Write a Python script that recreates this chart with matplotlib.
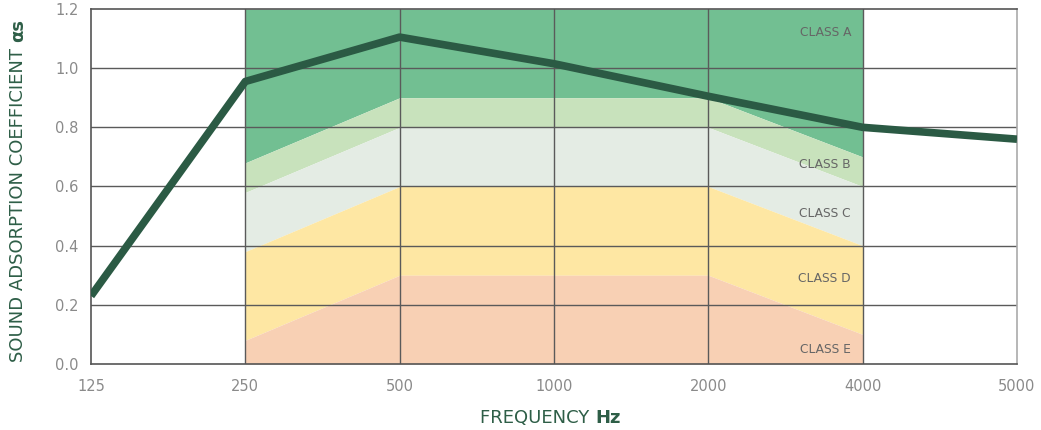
import numpy as np
import matplotlib.pyplot as plt

plt.rcParams['font.family'] = ['DejaVu Sans']

# ── Дані ──────────────────────────────────────────────────────────────
freqs = ['125', '250', '500', '1000', '2000', '4000', '5000']
alpha_s = [0.23, 0.955, 1.105, 1.015, 0.905, 0.80, 0.76]

# межі класів (для 250 ... 4000 Гц)
band_freqs = ['250', '500', '1000', '2000', '4000']
bound_ab = [0.68, 0.90, 0.90, 0.90, 0.70]
bound_bc = [0.58, 0.80, 0.80, 0.80, 0.60]
bound_cd = [0.38, 0.60, 0.60, 0.60, 0.40]
bound_de = [0.08, 0.30, 0.30, 0.30, 0.10]
bound_top = [1.2, 1.2, 1.2, 1.2, 1.2]
bound_bottom = [0.0, 0.0, 0.0, 0.0, 0.0]

class_names = ['CLASS A', 'CLASS B', 'CLASS C', 'CLASS D', 'CLASS E']
class_label_y = [1.12, 0.675, 0.51, 0.29, 0.05]
class_colors = ['#72bf92', '#c8e2bc', '#e4ece4', '#fee7a3', '#f8d0b4']

# ── Побудова ──────────────────────────────────────────────────────────
fig = plt.figure(figsize=(10.41, 4.30), dpi=100)
ax = fig.add_axes([91 / 1041, 66 / 430, 926 / 1041, 355 / 430])

x = np.arange(len(freqs))
xb = np.array([freqs.index(f) for f in band_freqs])

bounds = [bound_top, bound_ab, bound_bc, bound_cd, bound_de, bound_bottom]
for i, col in enumerate(class_colors):
    ax.fill_between(xb, bounds[i + 1], bounds[i], color=col, lw=0, zorder=1)

for name, yy in zip(class_names, class_label_y):
    ax.text(xb[-1] - 0.075, yy, name, ha='right', va='center',
            fontsize=8.8, color='#666666', zorder=3)

# сітка
for yy in np.arange(0.2, 1.2, 0.2):
    ax.axhline(yy, color='#5a5a5a', lw=1, zorder=2)
for xx in xb:
    ax.axvline(xx, color='#5a5a5a', lw=1, zorder=2)

ax.plot(x, alpha_s, color='#2b5a44', lw=5.5, zorder=4,
        solid_joinstyle='round', solid_capstyle='butt')

ax.set_xlim(0, len(freqs) - 1)
ax.set_ylim(0, 1.2)
ax.set_xticks(x)
ax.set_xticklabels(freqs)
ax.set_yticks(np.arange(0, 1.21, 0.2))
ax.set_yticklabels([f'{v:.1f}' for v in np.arange(0, 1.21, 0.2)])
ax.tick_params(length=0, labelsize=10.5, labelcolor='#8a8a8a')
ax.tick_params(axis='x', pad=11)
ax.tick_params(axis='y', pad=9)

for side in ['left', 'bottom', 'top']:
    ax.spines[side].set_color('#555555')
    ax.spines[side].set_linewidth(1.2)
ax.spines['right'].set_color('#aaaaaa')
ax.spines['right'].set_linewidth(1.2)

green = '#2e5e47'
yl = fig.text(18 / 1041, (430 - 362) / 430, 'SOUND ADSORPTION COEFFICIENT ',
              rotation=90, ha='center', va='bottom', fontsize=13, color=green)
ax.annotate('αs', xy=(0.5, 1.0), xycoords=yl, rotation=90,
            ha='center', va='bottom', fontsize=13, fontweight='bold', color=green)

xl = fig.text(480 / 1041, (430 - 423) / 430, 'FREQUENCY ', ha='left', va='baseline',
              fontsize=13, color=green)
ax.annotate('Hz', xy=(1.0, 0.0), xycoords=xl, ha='left', va='bottom',
            fontsize=13, fontweight='bold', color=green)

plt.savefig('out.png', dpi=100, facecolor='white')
